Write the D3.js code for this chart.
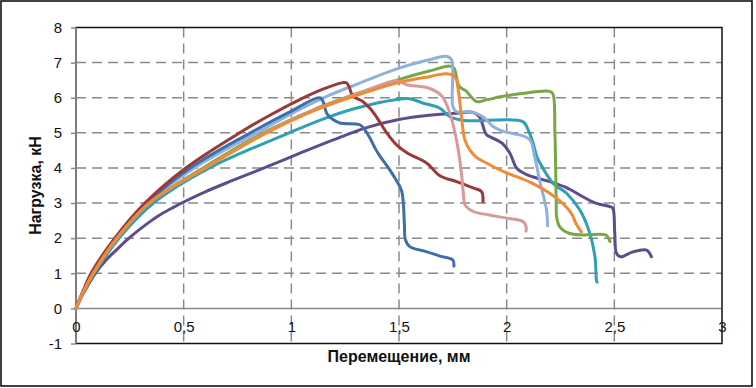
<!DOCTYPE html>
<html><head><meta charset="utf-8">
<script src="https://cdn.jsdelivr.net/npm/d3@7"></script>
<style>
html,body{margin:0;padding:0;background:#fff;}
svg{display:block;font-family:"Liberation Sans",Arial,sans-serif;}
</style></head>
<body>
<svg id="chart" width="756" height="388"></svg>
<script>
// ---- data (x: displacement, mm; y: load, kN) ----
const xTicks = [0, 0.5, 1, 1.5, 2, 2.5, 3];
const xTickLabels = ["0", "0,5", "1", "1,5", "2", "2,5", "3"];
const yTicks = [-1, 0, 1, 2, 3, 4, 5, 6, 7, 8];
const yTickLabels = ["-1", "0", "1", "2", "3", "4", "5", "6", "7", "8"];

const sPurple = [[0,0],[0.03,0.38],[0.09,1],[0.14,1.38],[0.2,1.74],[0.25,2.02],[0.3,2.27],[0.35,2.5],[0.4,2.7],[0.45,2.87],[0.5,3.03],[0.6,3.32],[0.73,3.65],[0.885,4.03],[1.04,4.42],[1.195,4.8],[1.35,5.15],[1.5,5.38],[1.64,5.5],[1.77,5.56],[1.845,5.58],[1.875,5.45],[1.89,5.2],[1.906,4.95],[1.953,4.8],[1.98,4.7],[2.015,4.42],[2.046,4.0],[2.08,3.85],[2.12,3.75],[2.2,3.61],[2.278,3.44],[2.354,3.18],[2.417,2.99],[2.48,2.9],[2.493,2.85],[2.502,2.14],[2.51,1.57],[2.53,1.47],[2.586,1.61],[2.65,1.66],[2.672,1.47]];
const sTeal = [[0,0],[0.03,0.4],[0.085,1],[0.2,2],[0.36,3],[0.62,4],[0.99,5],[1.15,5.4],[1.3,5.7],[1.49,5.95],[1.55,5.97],[1.61,5.85],[1.69,5.7],[1.736,5.46],[1.8,5.35],[2.075,5.32],[2.1,5.08],[2.123,4.7],[2.14,4.32],[2.155,4.14],[2.216,3.56],[2.278,3.28],[2.34,2.8],[2.386,2.14],[2.41,1.47],[2.417,0.81],[2.42,0.75]];
const sGreen = [[0,0],[0.03,0.42],[0.08,1],[0.19,2],[0.34,3],[0.59,4],[0.87,5],[1.1,5.65],[1.32,6.15],[1.49,6.5],[1.64,6.76],[1.736,6.9],[1.755,6.85],[1.78,6.32],[1.81,6.2],[1.86,5.89],[1.906,5.94],[1.984,6.04],[2.06,6.11],[2.2,6.18],[2.215,6.1],[2.224,5.0],[2.23,3.09],[2.232,2.61],[2.246,2.33],[2.29,2.14],[2.355,2.09],[2.46,2.09],[2.48,1.9]];
const sLightBlue = [[0,0],[0.03,0.43],[0.075,1],[0.19,2],[0.33,3],[0.55,4],[0.84,5],[1.05,5.7],[1.18,6.08],[1.32,6.42],[1.49,6.82],[1.64,7.08],[1.72,7.18],[1.744,7.08],[1.75,5.75],[1.767,5.6],[1.83,5.6],[1.89,5.46],[1.937,5.18],[1.984,5.04],[2.06,4.94],[2.108,4.8],[2.13,4.32],[2.155,3.6],[2.185,2.8],[2.19,2.35]];
const sSteelBlue = [[0,0],[0.03,0.44],[0.075,1],[0.185,2],[0.33,3],[0.53,4],[0.81,5],[1.0,5.62],[1.133,6.0],[1.15,5.85],[1.164,5.56],[1.195,5.37],[1.226,5.28],[1.318,5.23],[1.34,5.1],[1.365,4.85],[1.39,4.55],[1.41,4.35],[1.458,3.94],[1.49,3.62],[1.512,3.35],[1.52,3.0],[1.525,2.4],[1.53,1.95],[1.55,1.76],[1.63,1.61],[1.69,1.49],[1.75,1.38],[1.755,1.2]];
const sDarkRed = [[0,0],[0.03,0.45],[0.07,1],[0.18,2],[0.32,3],[0.51,4],[0.76,5],[0.9,5.5],[1.03,5.92],[1.15,6.25],[1.24,6.43],[1.257,6.42],[1.27,6.28],[1.285,6.05],[1.33,5.9],[1.365,5.7],[1.396,5.45],[1.443,5.0],[1.49,4.65],[1.54,4.42],[1.628,4.14],[1.69,3.78],[1.767,3.61],[1.844,3.43],[1.883,3.33],[1.89,3.04]];
const sPink = [[0,0],[0.03,0.42],[0.08,1],[0.19,2],[0.34,3],[0.6,4],[0.88,5],[1.1,5.64],[1.32,6.14],[1.49,6.48],[1.535,6.37],[1.64,6.27],[1.70,6.04],[1.736,5.56],[1.767,4.8],[1.79,3.85],[1.8,3.2],[1.806,2.95],[1.845,2.76],[1.92,2.66],[2.0,2.57],[2.077,2.47],[2.09,2.33],[2.09,2.2]];
const sOrange = [[0,0],[0.03,0.42],[0.08,1],[0.19,2],[0.34,3],[0.6,4],[0.885,5],[1.1,5.62],[1.318,6.1],[1.49,6.42],[1.64,6.6],[1.72,6.68],[1.76,6.6],[1.775,6.23],[1.79,5.46],[1.806,4.8],[1.83,4.5],[1.86,4.3],[1.906,4.14],[1.97,3.94],[2.046,3.75],[2.12,3.56],[2.2,3.28],[2.26,2.99],[2.3,2.71],[2.325,2.38],[2.347,2.18]];

const seriesList = [sPurple, sTeal, sGreen, sLightBlue, sSteelBlue, sDarkRed, sPink, sOrange];
const seriesColors = ["#5E4C8C", "#2FA0B5", "#78A747", "#8FB1DC", "#3F6FAA", "#983A39", "#D69A98", "#EF8B35"];

// ---- layout ----
const svg = d3.select("#chart");
const mLeft = 76, mRight = 722, mTop = 27.5, mBottom = 343.5;
const x = d3.scaleLinear().domain([0, 3]).range([mLeft, mRight]);
const y = d3.scaleLinear().domain([-1, 8]).range([mBottom, mTop]);
const gridColor = "#8a8a8a";

// outer frame
svg.append("rect").attr("x", 1).attr("y", 1).attr("width", 751).attr("height", 385)
  .attr("fill", "#fff").attr("stroke", "#111").attr("stroke-width", 1.6);

// horizontal dashed grid
svg.append("g").selectAll("line").data(yTicks.filter(v => v > 0 && v < 8)).join("line")
  .attr("x1", mLeft).attr("x2", mRight).attr("y1", d => y(d)).attr("y2", d => y(d))
  .attr("stroke", gridColor).attr("stroke-width", 1.5).attr("stroke-dasharray", "10,6");
// vertical dashed grid
svg.append("g").selectAll("line").data(xTicks.filter(v => v > 0 && v < 3)).join("line")
  .attr("x1", d => x(d)).attr("x2", d => x(d)).attr("y1", mTop).attr("y2", mBottom)
  .attr("stroke", gridColor).attr("stroke-width", 1.5).attr("stroke-dasharray", "10,6");

// zero line
svg.append("line").attr("x1", mLeft).attr("x2", mRight).attr("y1", y(0)).attr("y2", y(0))
  .attr("stroke", gridColor).attr("stroke-width", 1.5);

// plot border
svg.append("rect").attr("x", mLeft).attr("y", mTop).attr("width", mRight - mLeft).attr("height", mBottom - mTop)
  .attr("fill", "none").attr("stroke", "#111").attr("stroke-width", 1.5);
svg.append("line").attr("x1", mLeft).attr("x2", mLeft).attr("y1", mTop).attr("y2", mBottom)
  .attr("stroke", gridColor).attr("stroke-width", 1.6);

// y axis
const yAxis = d3.axisLeft(y).tickValues(yTicks).tickFormat((d, i) => yTickLabels[i]).tickSize(5).tickPadding(9);
const gy = svg.append("g").attr("transform", `translate(${mLeft},0)`).call(yAxis);
gy.select(".domain").remove();
gy.selectAll(".tick line").attr("stroke", gridColor).attr("stroke-width", 1.5);
gy.selectAll("text").attr("font-size", 15).attr("fill", "#111").attr("font-family", "Liberation Sans, Arial, sans-serif");

// x axis labels (placed under zero line)
const xAxis = d3.axisBottom(x).tickValues(xTicks).tickFormat((d, i) => xTickLabels[i]).tickSize(0).tickPadding(13);
const gx = svg.append("g").attr("transform", `translate(0,${y(0)})`).call(xAxis);
gx.select(".domain").remove();
gx.selectAll("text").attr("font-size", 15).attr("fill", "#111").attr("font-family", "Liberation Sans, Arial, sans-serif");

// series
const line = d3.line().x(d => x(d[0])).y(d => y(d[1])).curve(d3.curveCatmullRom.alpha(0.5));
svg.append("g").selectAll("path").data(seriesList).join("path")
  .attr("d", d => line(d)).attr("fill", "none")
  .attr("stroke", (d, i) => seriesColors[i]).attr("stroke-width", 3)
  .attr("stroke-linejoin", "round").attr("stroke-linecap", "round");

// titles
svg.append("text").attr("x", (mLeft + mRight) / 2).attr("y", 362).attr("text-anchor", "middle")
  .attr("font-size", 16).attr("font-weight", "bold").attr("fill", "#111").text("Перемещение, мм");
svg.append("text").attr("transform", `translate(41,${(mTop + mBottom) / 2}) rotate(-90)`).attr("text-anchor", "middle")
  .attr("font-size", 16).attr("font-weight", "bold").attr("fill", "#111").text("Нагрузка, кН");
</script>
</body></html>
